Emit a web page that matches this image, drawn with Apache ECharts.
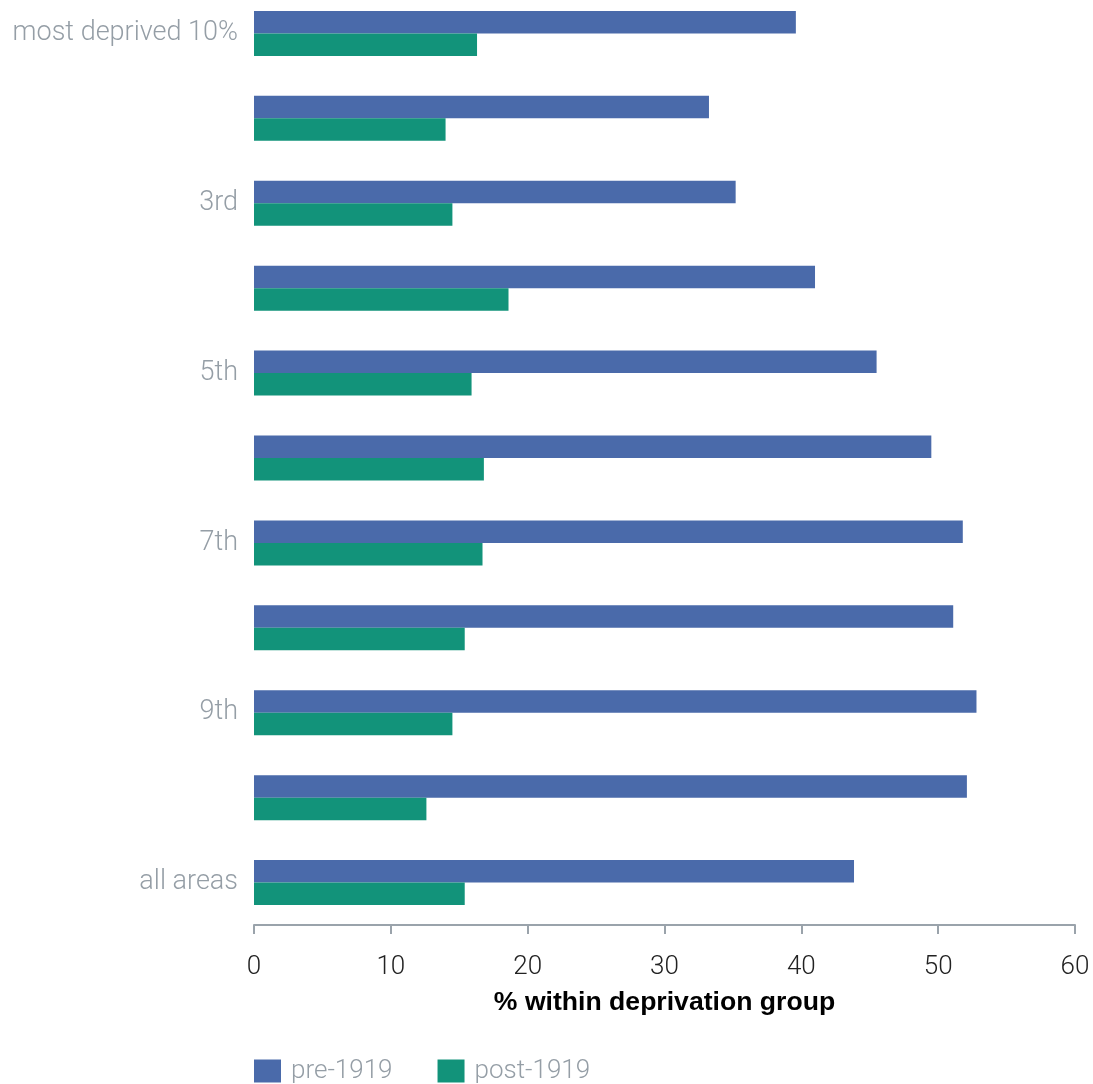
<!DOCTYPE html>
<html>
<head>
<meta charset="utf-8">
<script src="https://cdn.jsdelivr.net/npm/echarts@6/dist/echarts.min.js"></script>
<style>
html,body{margin:0;padding:0;background:#fff;}
#chart{width:1093px;height:1084px;}
</style>
</head>
<body>
<div id="chart"></div>
<script>
const categories = ["most deprived 10%", "2nd", "3rd", "4th", "5th", "6th", "7th", "8th", "9th", "least deprived 10%", "all areas"];
const pre1919 = [39.6, 33.25, 35.2, 41.0, 45.5, 49.5, 51.8, 51.1, 52.8, 52.1, 43.85];
const post1919 = [16.3, 14.0, 14.5, 18.6, 15.9, 16.8, 16.7, 15.4, 14.5, 12.6, 15.4];
const xTicks = [0, 10, 20, 30, 40, 50, 60];

const chart = echarts.init(document.getElementById('chart'));
const font = 'Roboto, "Noto Sans", sans-serif';
chart.setOption({
  animation: false,
  grid: { left: 254, right: 18, top: -9, height: 934, containLabel: false, outerBoundsMode: 'none' },
  legend: {
    left: 254, top: 1058, padding: 0, itemWidth: 27, itemHeight: 23, itemGap: 45,
    icon: 'rect',
    textStyle: { color: '#959ea6', fontSize: 26, fontFamily: font, fontWeight: 300, padding: [0, 0, 0, 5] },
    data: ['pre-1919', 'post-1919']
  },
  xAxis: {
    type: 'value', min: xTicks[0], max: xTicks[xTicks.length - 1], interval: 10,
    name: '% within deprivation group', nameLocation: 'middle', nameGap: 64,
    nameTextStyle: { color: '#000', fontSize: 26.6, fontWeight: 'bold', fontFamily: '"Liberation Sans", Arial, sans-serif' },
    axisLine: { show: true, lineStyle: { color: '#9aa3ab', width: 2 } },
    axisTick: { show: true, length: 9, lineStyle: { color: '#9aa3ab', width: 2 } },
    axisLabel: { color: '#222', fontSize: 26, fontFamily: font, fontWeight: 300, margin: 29 },
    splitLine: { show: false }
  },
  yAxis: {
    type: 'category', data: categories, inverse: true,
    axisLine: { show: false }, axisTick: { show: false },
    axisLabel: { interval: 1, color: '#959ea6', fontSize: 27, fontFamily: font, fontWeight: 300, margin: 16 }
  },
  series: [
    { name: 'pre-1919', type: 'bar', data: pre1919, itemStyle: { color: '#4a6aaa' }, barGap: '0%', barCategoryGap: '47%' },
    { name: 'post-1919', type: 'bar', data: post1919, itemStyle: { color: '#12937a' }, barGap: '0%', barCategoryGap: '47%' }
  ]
});
</script>
</body>
</html>
